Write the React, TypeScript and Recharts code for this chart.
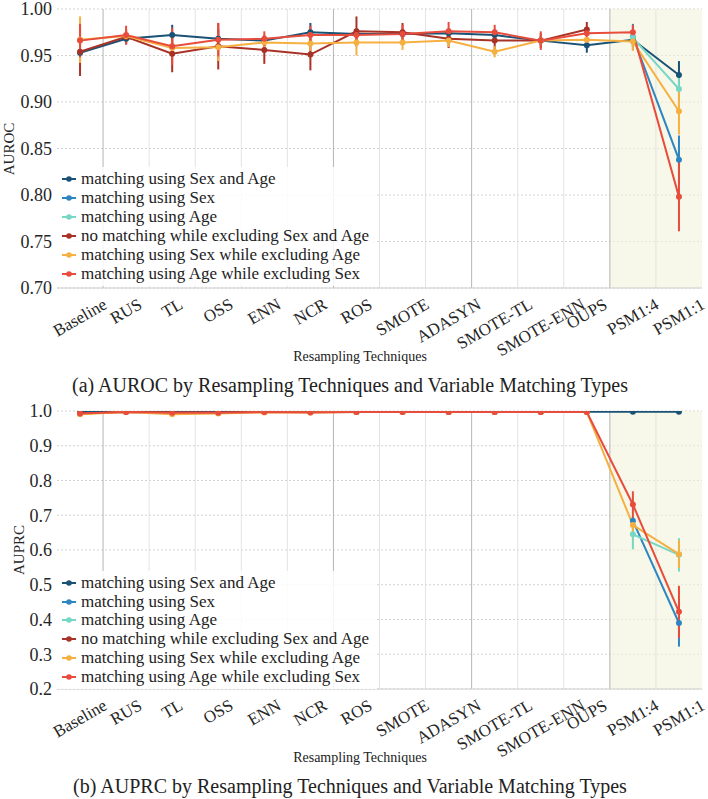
import React from 'react';
import { LineChart, Line, XAxis, YAxis, CartesianGrid, ReferenceLine, ReferenceArea, ErrorBar } from 'recharts';

const FONT = "'Liberation Serif', 'Times New Roman', Times, serif";

const categories = ['Baseline', 'RUS', 'TL', 'OSS', 'ENN', 'NCR', 'ROS', 'SMOTE', 'ADASYN', 'SMOTE-TL', 'SMOTE-ENN', 'OUPS', 'PSM1:4', 'PSM1:1'];
const groupSizes = [1, 5, 3, 3, 2];

const seriesKeys = ['sexAge', 'sex', 'age', 'noMatch', 'sexExAge', 'ageExSex'];
const seriesNames = [
  'matching using Sex and Age',
  'matching using Sex',
  'matching using Age',
  'no matching while excluding Sex and Age',
  'matching using Sex while excluding Age',
  'matching using Age while excluding Sex',
];
const seriesColors = ['#1a5276', '#2e86c1', '#76d7c4', '#a93226', '#f5b041', '#e74c3c'];

// AUROC
const rocSexAge = [0.953, 0.968, 0.972, 0.968, 0.966, 0.975, 0.973, 0.973, 0.974, 0.972, 0.966, 0.961, 0.967, 0.929];
const rocSexAgeErr = [0.01, 0.006, 0.011, 0.01, 0.006, 0.01, 0.006, 0.005, 0.005, 0.006, 0.005, 0.008, 0.008, 0.015];
const rocSex = [null, null, null, null, null, null, null, null, null, null, null, null, 0.970, 0.838];
const rocSexErr = [null, null, null, null, null, null, null, null, null, null, null, null, 0.014, 0.026];
const rocAge = [null, null, null, null, null, null, null, null, null, null, null, null, 0.969, 0.914];
const rocAgeErr = [null, null, null, null, null, null, null, null, null, null, null, null, 0.008, 0.012];
const rocNoMatch = [0.954, 0.970, 0.952, 0.960, 0.956, 0.951, 0.976, 0.975, 0.968, 0.966, 0.966, 0.978, null, null];
const rocNoMatchErr = [0.026, 0.008, 0.02, 0.025, 0.015, 0.017, 0.016, 0.01, 0.01, 0.01, 0.008, 0.008, null, null];
const rocSexExAge = [0.967, 0.971, 0.958, 0.959, 0.964, 0.963, 0.964, 0.964, 0.966, 0.954, 0.966, 0.967, 0.965, 0.890];
const rocSexExAgeErr = [0.025, 0.006, 0.008, 0.015, 0.008, 0.008, 0.014, 0.008, 0.007, 0.006, 0.005, 0.006, 0.01, 0.025];
const rocAgeExSex = [0.966, 0.972, 0.960, 0.967, 0.968, 0.972, 0.972, 0.973, 0.976, 0.975, 0.966, 0.974, 0.975, 0.798];
const rocAgeExSexErr = [0.018, 0.01, 0.02, 0.018, 0.008, 0.01, 0.007, 0.01, 0.01, 0.008, 0.01, 0.007, 0.008, 0.037];

// AUPRC
const prcSexAge = [0.997, 0.998, 0.998, 0.998, 0.998, 0.998, 0.998, 0.998, 0.998, 0.998, 0.998, 0.998, 0.998, 0.998];
const prcSexAgeErr = [0.002, 0.001, 0.001, 0.001, 0.001, 0.001, 0.001, 0.001, 0.001, 0.001, 0.001, 0.001, 0.001, 0.001];
const prcSex = [null, null, null, null, null, null, null, null, null, null, null, null, 0.684, 0.390];
const prcSexErr = [null, null, null, null, null, null, null, null, null, null, null, null, 0.012, 0.068];
const prcAge = [null, null, null, null, null, null, null, null, null, null, null, null, 0.645, 0.586];
const prcAgeErr = [null, null, null, null, null, null, null, null, null, null, null, null, 0.043, 0.048];
const prcNoMatch = [0.993, 0.997, 0.996, 0.996, 0.997, 0.997, 0.997, 0.998, 0.997, 0.997, 0.997, 0.997, null, null];
const prcNoMatchErr = [0.003, 0.001, 0.002, 0.002, 0.001, 0.001, 0.001, 0.001, 0.001, 0.001, 0.001, 0.001, null, null];
const prcSexExAge = [0.991, 0.997, 0.991, 0.993, 0.996, 0.996, 0.997, 0.997, 0.997, 0.997, 0.997, 0.997, 0.672, 0.588];
const prcSexExAgeErr = [0.003, 0.001, 0.003, 0.002, 0.001, 0.001, 0.001, 0.001, 0.001, 0.001, 0.001, 0.001, 0.02, 0.04];
const prcAgeExSex = [0.993, 0.997, 0.995, 0.995, 0.997, 0.996, 0.997, 0.997, 0.997, 0.997, 0.997, 0.997, 0.731, 0.422];
const prcAgeExSexErr = [0.003, 0.001, 0.002, 0.002, 0.001, 0.001, 0.001, 0.001, 0.001, 0.001, 0.001, 0.001, 0.038, 0.075];

const rocTicks = [0.70, 0.75, 0.80, 0.85, 0.90, 0.95, 1.00];
const prcTicks = [0.2, 0.3, 0.4, 0.5, 0.6, 0.7, 0.8, 0.9, 1.0];

function buildRows(vals: (number | null)[][], errs: (number | null)[][]) {
  return categories.map((c, i) => {
    const r: any = { idx: i, name: c };
    seriesKeys.forEach((k, j) => {
      const v = vals[j][i];
      r[k] = v;
      r[k + 'Err'] = v == null ? null : errs[j][i];
    });
    return r;
  });
}

const rocRows = buildRows(
  [rocSexAge, rocSex, rocAge, rocNoMatch, rocSexExAge, rocAgeExSex],
  [rocSexAgeErr, rocSexErr, rocAgeErr, rocNoMatchErr, rocSexExAgeErr, rocAgeExSexErr]
);
const prcRows = buildRows(
  [prcSexAge, prcSex, prcAge, prcNoMatch, prcSexExAge, prcAgeExSex],
  [prcSexAgeErr, prcSexErr, prcAgeErr, prcNoMatchErr, prcSexExAgeErr, prcAgeExSexErr]
);

// category boundaries (between bands)
const boundaries = categories.slice(1).map((_, i) => i + 0.5);
const groupBoundaries: number[] = [];
{
  let acc = 0;
  groupSizes.slice(0, -1).forEach((s) => {
    acc += s;
    groupBoundaries.push(acc - 0.5);
  });
}
const psmStart = categories.length - groupSizes[groupSizes.length - 1] - 0.5;
const xTicks = categories.map((_, i) => i);

let measureCtx: CanvasRenderingContext2D | null = null;
function textWidth(t: string, size: number) {
  try {
    if (!measureCtx) measureCtx = document.createElement('canvas').getContext('2d');
  } catch (e) {
    measureCtx = null;
  }
  if (!measureCtx) return t.length * size * 0.55;
  measureCtx.font = `${size}px 'Liberation Serif'`;
  return measureCtx.measureText(t).width;
}

function XTick(props: any) {
  const { x, y, payload } = props;
  const label = categories[payload.value] ?? '';
  const fs = 17;
  const w = textWidth(label, fs);
  const h = fs * 0.8;
  const cy = y + (w * 0.5 + h * 0.866) / 2;
  return (
    <text x={x} y={cy} textAnchor="middle" dominantBaseline="central" transform={`rotate(-30 ${x} ${cy})`} fontSize={fs} fontFamily={FONT} fill="#262626">
      {label}
    </text>
  );
}

type PanelProps = {
  rows: any[];
  top: number;
  marginTop: number;
  plotHeight: number;
  yDomain: [number, number];
  yTicks: number[];
  digits: number;
  yLabel: string;
  yLabelX: number;
  caption: string;
  legendTop: number;
  legendStep: number;
};

function Panel(p: PanelProps) {
  const xAxisHeight = 90;
  const height = p.marginTop + p.plotHeight + xAxisHeight;
  const plotTop = p.top + p.marginTop;
  const plotBottom = plotTop + p.plotHeight;
  return (
    <>
      <div style={{ position: 'absolute', left: 0, top: p.top }}>
        <LineChart width={708} height={height} data={p.rows} margin={{ top: p.marginTop, right: 6, bottom: 0, left: 0 }}>
          <CartesianGrid vertical={false} stroke="#d2d2d2" strokeDasharray="2 2" />
          <ReferenceArea x1={psmStart} x2={categories.length - 0.5} y1={p.yDomain[0]} y2={p.yDomain[1]} fill="#f3f3dc" fillOpacity={0.6} stroke="none" ifOverflow="hidden" />
          {boundaries.map((b) => (
            <ReferenceLine key={'b' + b} x={b} stroke={groupBoundaries.includes(b) ? '#b5b5b5' : '#e3e3e3'} strokeWidth={1} />
          ))}
          <XAxis
            type="number"
            dataKey="idx"
            domain={[-0.5, categories.length - 0.5]}
            ticks={xTicks}
            interval={0}
            tick={<XTick />}
            tickLine={false}
            tickSize={9}
            tickMargin={0}
            axisLine={{ stroke: '#cfcfcf' }}
            height={xAxisHeight}
            allowDataOverflow
          />
          <YAxis
            type="number"
            domain={p.yDomain}
            ticks={p.yTicks}
            interval={0}
            width={57}
            tickLine={false}
            axisLine={false}
            tickSize={3}
            tickMargin={2}
            tickFormatter={(v: number) => v.toFixed(p.digits)}
            tick={{ fontSize: 18, fontFamily: FONT, fill: '#262626' }}
            allowDataOverflow
          />
          {seriesKeys.map((k, j) => (
            <Line
              key={k}
              type="linear"
              dataKey={k}
              stroke={seriesColors[j]}
              strokeWidth={2}
              dot={{ r: 3, fill: seriesColors[j], stroke: seriesColors[j], strokeWidth: 0 }}
              activeDot={false}
              isAnimationActive={false}
              connectNulls={false}
            >
              <ErrorBar dataKey={k + 'Err'} width={0} stroke={seriesColors[j]} strokeWidth={2} direction="y" isAnimationActive={false} />
            </Line>
          ))}
        </LineChart>
      </div>
      {/* legend */}
      <div
        style={{
          position: 'absolute',
          left: 57,
          top: p.legendTop - 12,
          width: 320,
          height: p.legendStep * 5 + 24,
          background: 'rgba(255,255,255,0.85)',
        }}
      />
      {seriesNames.map((n, j) => {
        const cy = p.legendTop + j * p.legendStep;
        return (
          <div key={n} style={{ position: 'absolute', left: 61, top: cy - 10, height: 20, display: 'flex', alignItems: 'center' }}>
            <svg width={17} height={20} style={{ display: 'block' }}>
              <line x1={1} y1={10} x2={15} y2={10} stroke={seriesColors[j]} strokeWidth={2} />
              <circle cx={8} cy={10} r={2.8} fill={seriesColors[j]} />
            </svg>
            <span style={{ marginLeft: 3, fontFamily: FONT, fontSize: 17, color: '#222', lineHeight: '20px', whiteSpace: 'nowrap' }}>{n}</span>
          </div>
        );
      })}
      {/* y label */}
      <div
        style={{
          position: 'absolute',
          left: p.yLabelX - 50,
          top: (plotTop + plotBottom) / 2 - 10,
          width: 100,
          height: 20,
          lineHeight: '20px',
          textAlign: 'center',
          transform: 'rotate(-90deg)',
          fontFamily: FONT,
          fontSize: 15,
          color: '#262626',
        }}
      >
        {p.yLabel}
      </div>
      {/* x label */}
      <div
        style={{
          position: 'absolute',
          left: 360 - 150,
          top: plotBottom + 69 - 9,
          width: 300,
          height: 18,
          lineHeight: '18px',
          textAlign: 'center',
          fontFamily: FONT,
          fontSize: 14,
          color: '#222',
        }}
      >
        Resampling Techniques
      </div>
      {/* caption */}
      <div
        style={{
          position: 'absolute',
          left: 350 - 340,
          top: plotBottom + 97 - 12,
          width: 680,
          height: 24,
          lineHeight: '24px',
          textAlign: 'center',
          fontFamily: FONT,
          fontSize: 20,
          color: '#222',
        }}
      >
        {p.caption}
      </div>
    </>
  );
}

export default function App() {
  return (
    <div style={{ position: 'absolute', left: 0, top: 0, width: 708, height: 799, background: '#fff', overflow: 'hidden' }}>
      <Panel
        rows={rocRows}
        top={0}
        marginTop={9}
        plotHeight={279}
        yDomain={[0.7, 1.0]}
        yTicks={rocTicks}
        digits={2}
        yLabel="AUROC"
        yLabelX={9}
        caption="(a) AUROC by Resampling Techniques and Variable Matching Types"
        legendTop={179}
        legendStep={19}
      />
      <Panel
        rows={prcRows}
        top={400}
        marginTop={11}
        plotHeight={278}
        yDomain={[0.2, 1.0]}
        yTicks={prcTicks}
        digits={1}
        yLabel="AUPRC"
        yLabelX={19}
        caption="(b) AUPRC by Resampling Techniques and Variable Matching Types"
        legendTop={583}
        legendStep={18.7}
      />
    </div>
  );
}
